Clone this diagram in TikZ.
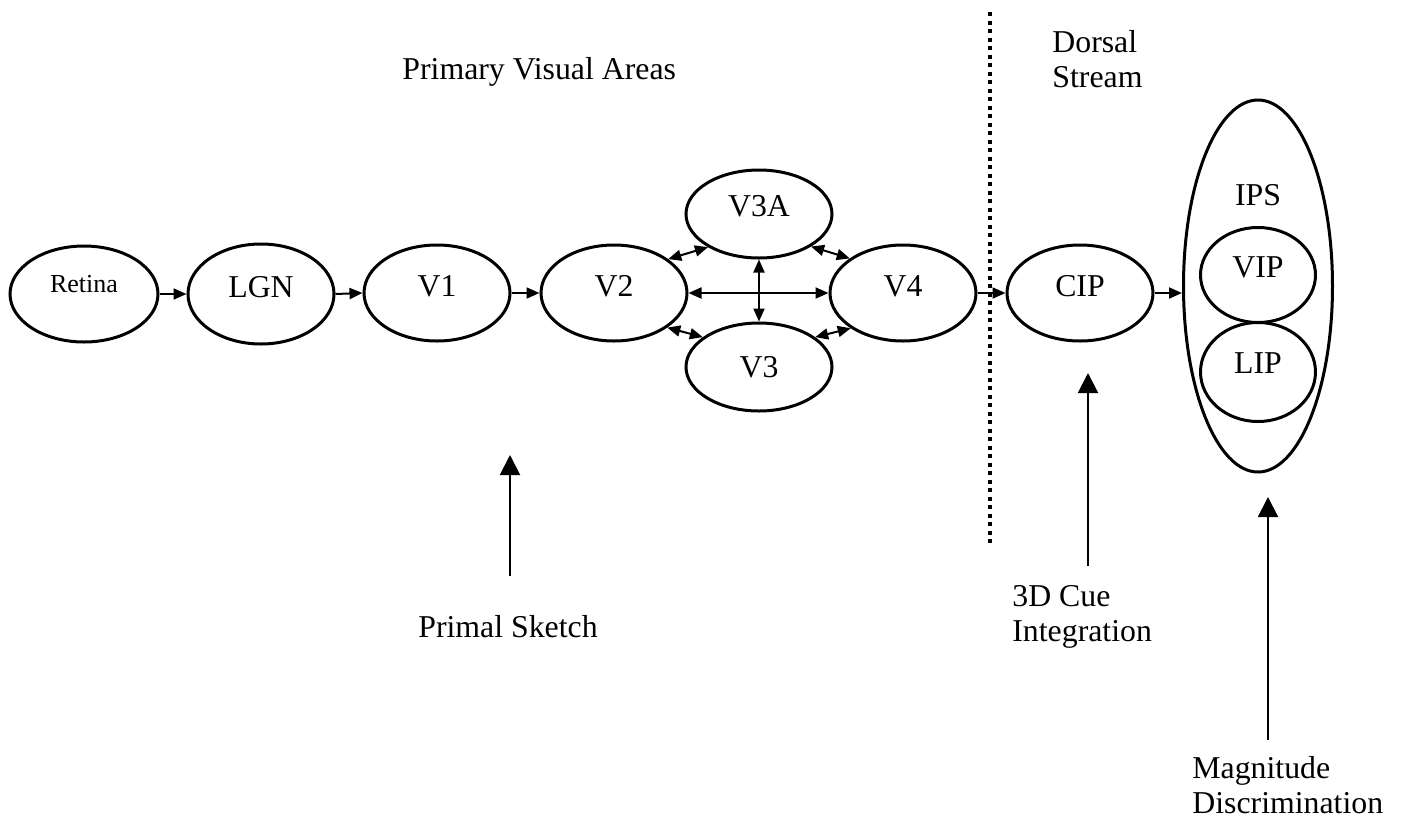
\documentclass[tikz,border=0pt]{standalone}
\usepackage{fontspec}
\setmainfont{Liberation Serif}
\usetikzlibrary{shapes.geometric,arrows.meta}
\tikzset{
  area/.style={ellipse,draw,line width=1.5pt,inner sep=0pt,text depth=7pt,
    minimum width=73pt,minimum height=48pt},
  txt/.style={inner sep=0pt,font=\fontsize{15.9}{17.5}\selectfont},
  link/.style={line width=1pt,-{Triangle[length=6.5pt,width=5.5pt]}},
  twoway/.style={line width=1pt,{Triangle[length=6.5pt,width=5.5pt]}-{Triangle[length=6.5pt,width=5.5pt]}},
  pointer/.style={line width=1pt,-{Triangle[length=10pt,width=10pt]}}
}
\begin{document}
\begin{tikzpicture}[x=0.5pt,y=-0.5pt,font=\fontsize{15.9}{17.5}\selectfont]
\useasboundingbox (0,0) rectangle (1405,826);

\node[txt,anchor=base west] (pva) at (402,79) {Primary Visual Areas};
\node[txt,anchor=base west,align=left] (dorsal) at (1052,87) {Dorsal\\Stream};

\node[area,minimum width=74pt,text depth=10pt,font=\fontsize{13}{15}\selectfont] (ret) at (84,294) {Retina};
\node[area,minimum height=50pt] (lgn) at (261,294) {LGN};
\node[area] (v1) at (437,293) {V1};
\node[area] (v2) at (614,293) {V2};
\node[area,minimum height=44pt,text depth=8pt] (v3a) at (759,214) {V3A};
\node[area,minimum height=44pt,text depth=0pt] (v3) at (759,367) {V3};
\node[area] (v4) at (903,293) {V4};
\node[area] (cip) at (1080,293) {CIP};

\node[area,minimum width=74.5pt,minimum height=186pt] (ips) at (1258,286) {};
\node[txt] (ipslbl) at (1258,195) {IPS};
\node[area,minimum width=57.5pt,minimum height=47.5pt,text depth=8pt] (vip) at (1258,275) {VIP};
\node[area,minimum width=57.5pt,minimum height=49.5pt,text depth=9pt] (lip) at (1258,372) {LIP};

\draw[link] (ret.east) -- (lgn.west);
\draw[link] (lgn.east) -- (v1.west);
\draw[link] (v1.east) -- (v2.west);
\draw[twoway] (v2.east) -- (v4.west);
\draw[twoway] (v3a.south) -- (v3.north);
\draw[twoway] (v2.32) -- (v3a.213);
\draw[twoway] (v3a.-32) -- (v4.147);
\draw[twoway] (v2.-33) -- (v3.152);
\draw[twoway] (v3.28) -- (v4.214);
\draw[link] (v4.east) -- (cip.west);
\draw[link] (cip.east) -- (cip.east -| ips.west);

\coordinate (divtop) at (990,12);
\coordinate (divbot) at (990,545);
\draw[line width=2pt,dash pattern=on 2pt off 2.25pt] (divtop) -- (divbot);

\coordinate (pstail) at (510,576);
\coordinate (pshead) at (510,455);
\draw[pointer] (pstail) -- (pshead);
\node[txt,anchor=base] (primal) at (508,637) {Primal Sketch};

\coordinate (cuetail) at (1088,566);
\coordinate (cuehead) at (1088,373);
\draw[pointer] (cuetail) -- (cuehead);
\node[txt,anchor=base west,align=left] (cue) at (1012,641) {3D Cue\\Integration};

\coordinate (magtail) at (1268,740);
\coordinate (maghead) at (1268,497);
\draw[pointer] (magtail) -- (maghead);
\node[txt,anchor=base west,align=left] (mag) at (1192,813) {Magnitude\\Discrimination};
\end{tikzpicture}
\end{document}
